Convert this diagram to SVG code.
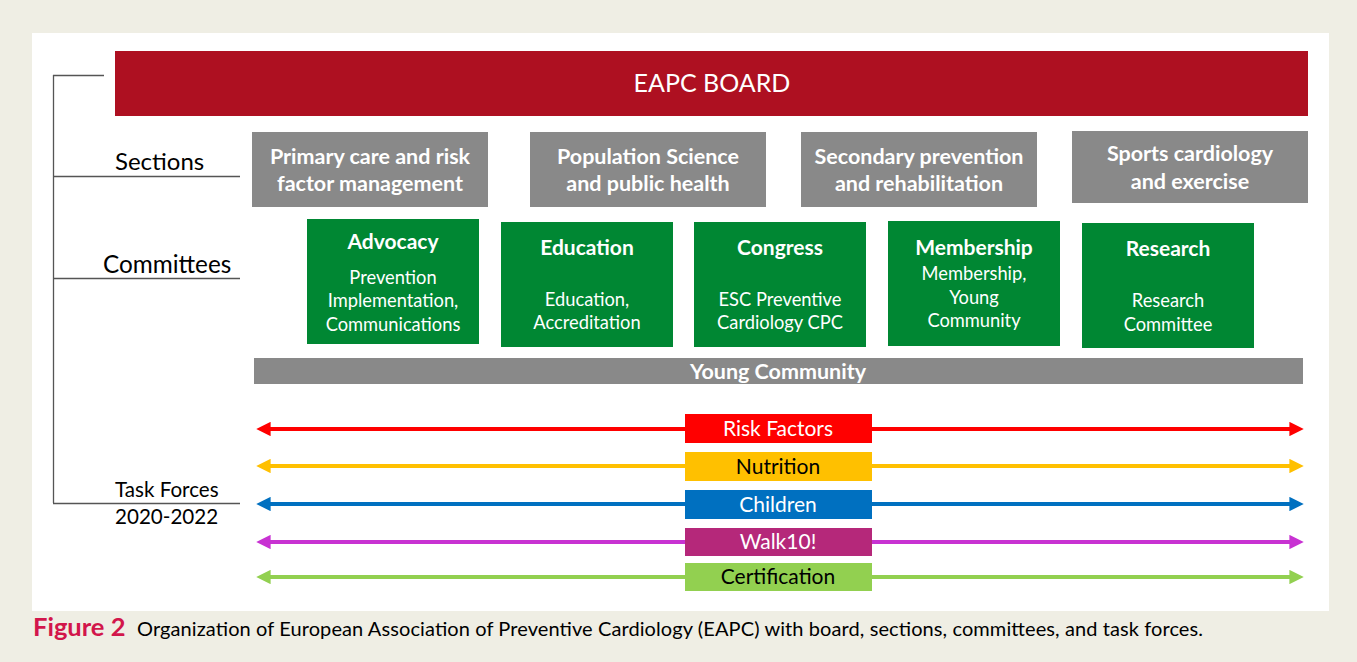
<svg xmlns="http://www.w3.org/2000/svg" width="1357" height="662" viewBox="0 0 1357 662">
  <style>
    .lbl { font-family: Lato, "Open Sans", sans-serif; fill: #000; }
    .sec rect { fill: #898989; }
    .sec text { font-family: Lato, "Open Sans", sans-serif; font-weight: bold; font-size: 21.5px; fill: #fff; text-anchor: middle; }
    .com rect { fill: #008733; }
    .com text { font-family: Lato, "Open Sans", sans-serif; font-size: 18.3px; fill: #fff; text-anchor: middle; }
    .com text.t { font-weight: bold; font-size: 21px; }
    .tf text { font-family: Lato, "Open Sans", sans-serif; font-size: 21px; text-anchor: middle; }
    .brk { stroke: #555; stroke-width: 1.3; fill: none; }
  </style>
  <defs>
    <marker id="hR" viewBox="0 0 10 10" refX="6" refY="5" markerWidth="3.7" markerHeight="3.6" orient="auto-start-reverse"><path d="M0,0 L10,5 L0,10 z" fill="#FF0000"/></marker>
    <marker id="hY" viewBox="0 0 10 10" refX="6" refY="5" markerWidth="3.7" markerHeight="3.6" orient="auto-start-reverse"><path d="M0,0 L10,5 L0,10 z" fill="#FFC000"/></marker>
    <marker id="hB" viewBox="0 0 10 10" refX="6" refY="5" markerWidth="3.7" markerHeight="3.6" orient="auto-start-reverse"><path d="M0,0 L10,5 L0,10 z" fill="#0070C0"/></marker>
    <marker id="hM" viewBox="0 0 10 10" refX="6" refY="5" markerWidth="3.7" markerHeight="3.6" orient="auto-start-reverse"><path d="M0,0 L10,5 L0,10 z" fill="#C832D2"/></marker>
    <marker id="hG" viewBox="0 0 10 10" refX="6" refY="5" markerWidth="3.7" markerHeight="3.6" orient="auto-start-reverse"><path d="M0,0 L10,5 L0,10 z" fill="#92D050"/></marker>
  </defs>

  <!-- page background and figure panel -->
  <rect x="0" y="0" width="1357" height="662" fill="#EFEEE4"/>
  <rect x="32" y="33" width="1297" height="578" fill="#FFFFFF"/>

  <!-- level bracket on the left -->
  <g id="bracket" class="brk">
    <line x1="53.5" y1="75" x2="53.5" y2="503"/>
    <line x1="53" y1="75.5" x2="104" y2="75.5"/>
    <line x1="53" y1="176.5" x2="240" y2="176.5"/>
    <line x1="53" y1="278.5" x2="240" y2="278.5"/>
    <line x1="53" y1="503.5" x2="240" y2="503.5"/>
  </g>
  <g id="level-labels" class="lbl">
    <text x="115" y="170" font-size="24">Sections</text>
    <text x="103" y="273" font-size="24.3">Committees</text>
    <text x="115" y="497" font-size="20.6">Task Forces</text>
    <text x="115" y="524" font-size="20.6">2020-2022</text>
  </g>

  <!-- board -->
  <g id="board">
    <rect x="115" y="51" width="1193" height="65" fill="#AE1021"/>
    <text x="712" y="92" font-family="Lato, 'Open Sans', sans-serif" font-size="25" fill="#fff" text-anchor="middle">EAPC BOARD</text>
  </g>

  <!-- sections -->
  <g id="sec-primary" class="sec">
    <rect x="252" y="132" width="236" height="75"/>
    <text x="370" y="164">Primary care and risk</text>
    <text x="370" y="191">factor management</text>
  </g>
  <g id="sec-population" class="sec">
    <rect x="530" y="132" width="236" height="75"/>
    <text x="648" y="164">Population Science</text>
    <text x="648" y="191">and public health</text>
  </g>
  <g id="sec-secondary" class="sec">
    <rect x="801" y="132" width="236" height="75"/>
    <text x="919" y="164">Secondary prevention</text>
    <text x="919" y="191">and rehabilitation</text>
  </g>
  <g id="sec-sports" class="sec">
    <rect x="1072" y="131" width="236" height="72"/>
    <text x="1190" y="161">Sports cardiology</text>
    <text x="1190" y="189">and exercise</text>
  </g>

  <!-- committees -->
  <g id="com-advocacy" class="com">
    <rect x="307" y="219" width="172" height="125"/>
    <text class="t" x="393" y="249">Advocacy</text>
    <text x="393" y="284">Prevention</text>
    <text x="393" y="307">Implementation,</text>
    <text x="393" y="331">Communications</text>
  </g>
  <g id="com-education" class="com">
    <rect x="501" y="222" width="172" height="125"/>
    <text class="t" x="587" y="255">Education</text>
    <text x="587" y="306">Education,</text>
    <text x="587" y="329">Accreditation</text>
  </g>
  <g id="com-congress" class="com">
    <rect x="694" y="222" width="172" height="125"/>
    <text class="t" x="780" y="255">Congress</text>
    <text x="780" y="306">ESC Preventive</text>
    <text x="780" y="329">Cardiology CPC</text>
  </g>
  <g id="com-membership" class="com">
    <rect x="888" y="221" width="172" height="125"/>
    <text class="t" x="974" y="255">Membership</text>
    <text x="974" y="280">Membership,</text>
    <text x="974" y="304">Young</text>
    <text x="974" y="327">Community</text>
  </g>
  <g id="com-research" class="com">
    <rect x="1082" y="223" width="172" height="125"/>
    <text class="t" x="1168" y="256">Research</text>
    <text x="1168" y="307">Research</text>
    <text x="1168" y="331">Committee</text>
  </g>

  <!-- young community band -->
  <g id="young-community" class="sec">
    <rect x="254" y="358" width="1049" height="26"/>
    <text x="778" y="379" font-size="20">Young Community</text>
  </g>

  <!-- task force connectors -->
  <g id="connectors" stroke-width="4" fill="none">
    <line x1="262" y1="429" x2="1298" y2="429" stroke="#FF0000" marker-start="url(#hR)" marker-end="url(#hR)"/>
    <line x1="262" y1="466" x2="1298" y2="466" stroke="#FFC000" marker-start="url(#hY)" marker-end="url(#hY)"/>
    <line x1="262" y1="504" x2="1298" y2="504" stroke="#0070C0" marker-start="url(#hB)" marker-end="url(#hB)"/>
    <line x1="262" y1="542" x2="1298" y2="542" stroke="#C832D2" marker-start="url(#hM)" marker-end="url(#hM)"/>
    <line x1="262" y1="577" x2="1298" y2="577" stroke="#92D050" marker-start="url(#hG)" marker-end="url(#hG)"/>
  </g>

  <!-- task force labels -->
  <g id="tf-risk" class="tf">
    <rect x="685" y="414" width="187" height="29" fill="#FF0000"/>
    <text x="778" y="436" fill="#fff">Risk Factors</text>
  </g>
  <g id="tf-nutrition" class="tf">
    <rect x="685" y="452" width="187" height="29" fill="#FFC000"/>
    <text x="778" y="474" fill="#000">Nutrition</text>
  </g>
  <g id="tf-children" class="tf">
    <rect x="685" y="490" width="187" height="29" fill="#0070C0"/>
    <text x="778" y="512" fill="#fff">Children</text>
  </g>
  <g id="tf-walk" class="tf">
    <rect x="685" y="528" width="187" height="28" fill="#B5287A"/>
    <text x="778" y="549" fill="#fff">Walk10!</text>
  </g>
  <g id="tf-cert" class="tf">
    <rect x="685" y="563" width="187" height="28" fill="#92D050"/>
    <text x="778" y="584" fill="#000">Certification</text>
  </g>

  <!-- caption -->
  <g id="caption" font-family="Lato, 'Open Sans', sans-serif">
    <text x="33" y="636" font-weight="bold" font-size="25.5" fill="#D2164B">Figure 2</text>
    <text x="137" y="636" font-size="20" fill="#000" textLength="1066" lengthAdjust="spacing">Organization of European Association of Preventive Cardiology (EAPC) with board, sections, committees, and task forces.</text>
  </g>
</svg>
